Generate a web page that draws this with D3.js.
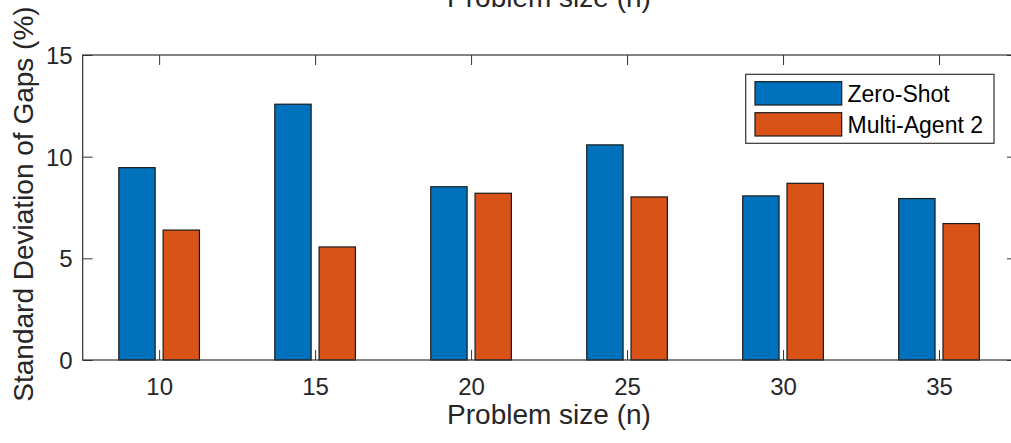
<!DOCTYPE html>
<html>
<head>
<meta charset="utf-8">
<script src="https://cdn.jsdelivr.net/npm/d3@7"></script>
<style>
  html, body { margin: 0; padding: 0; background: #fff; overflow: hidden; }
  svg { display: block; }
  text { font-family: "Liberation Sans", Arial, Helvetica, sans-serif; fill: #262626; }
</style>
</head>
<body>
<svg id="chart" width="1011" height="443"></svg>
<script>
const categories = [10, 15, 20, 25, 30, 35];
const seriesNames = ["Zero-Shot", "Multi-Agent 2"];
const zeroShot = [9.46, 12.58, 8.52, 10.58, 8.07, 7.94];
const multiAgent2 = [6.39, 5.56, 8.20, 8.02, 8.69, 6.71];
const yTicks = [0, 5, 10, 15];
const colors = ["#0072BD", "#D95319"];

(function () {
const svg = d3.select("#chart");
const pL = 82.7, pR = 1017, pT = 55, pB = 360;

const x = d3.scaleLinear().domain([7.55, 37.5]).range([pL, pR]);
const y = d3.scaleLinear().domain([0, 15]).range([pB, pT]);

const barW = 1.165;      // data units
const offsets = [-0.71, 0.71];
const series = [zeroShot, multiAgent2];

// bars
series.forEach((vals, si) => {
  svg.append("g").selectAll("rect").data(vals).join("rect")
    .attr("x", (d, i) => x(categories[i] + offsets[si] - barW / 2))
    .attr("width", x(barW) - x(0))
    .attr("y", d => y(d))
    .attr("height", d => y(0) - y(d))
    .attr("fill", colors[si])
    .attr("stroke", "#1a1a1a")
    .attr("stroke-width", 1.2);
});

const axisColor = "#333333";
const tickLen = 10;

// bottom axis (ticks inward)
const xAxis = d3.axisBottom(x).tickValues(categories).tickSizeInner(-tickLen).tickSizeOuter(0).tickFormat(d3.format("d"));
const gx = svg.append("g").attr("transform", `translate(0,${pB})`).call(xAxis);
gx.select(".domain").remove();
gx.selectAll("line").attr("stroke", axisColor);
gx.selectAll("text").attr("font-size", 24).style("fill", "#262626")
  .attr("font-family", "Liberation Sans, Arial, sans-serif").attr("dy", null).attr("y", 35);

// top axis ticks
const xTop = d3.axisTop(x).tickValues(categories).tickSizeInner(-tickLen).tickSizeOuter(0).tickFormat("");
const gxt = svg.append("g").attr("transform", `translate(0,${pT})`).call(xTop);
gxt.select(".domain").remove();
gxt.selectAll("line").attr("stroke", axisColor);

// left axis
const yAxis = d3.axisLeft(y).tickValues(yTicks).tickSizeInner(-tickLen).tickSizeOuter(0);
const gy = svg.append("g").attr("transform", `translate(${pL},0)`).call(yAxis);
gy.select(".domain").remove();
gy.selectAll("line").attr("stroke", axisColor);
gy.selectAll("text").attr("font-size", 24).style("fill", "#262626")
  .attr("font-family", "Liberation Sans, Arial, sans-serif").attr("x", -10).attr("dy", "0.35em");

// right axis ticks
const yRight = d3.axisRight(y).tickValues(yTicks).tickSizeInner(-tickLen).tickSizeOuter(0).tickFormat("");
const gyr = svg.append("g").attr("transform", `translate(${pR},0)`).call(yRight);
gyr.select(".domain").remove();
gyr.selectAll("line").attr("stroke", axisColor);

// box
svg.append("rect")
  .attr("x", pL).attr("y", pT)
  .attr("width", pR - pL).attr("height", pB - pT)
  .attr("fill", "none").attr("stroke", axisColor).attr("stroke-width", 1.2);

// labels
svg.append("text")
  .attr("x", 549).attr("y", 424)
  .attr("text-anchor", "middle").attr("font-size", 28)
  .text("Problem size (n)");

svg.append("text")
  .attr("x", 549).attr("y", 7)
  .attr("text-anchor", "middle").attr("font-size", 28)
  .text("Problem size (n)");

svg.append("text")
  .attr("transform", `translate(33,204) rotate(-90)`)
  .attr("text-anchor", "middle").attr("font-size", 28)
  .text("Standard Deviation of Gaps (%)");

// legend
const lg = svg.append("g");
lg.append("rect").attr("x", 745.7).attr("y", 74.3).attr("width", 248.3).attr("height", 69)
  .attr("fill", "#fff").attr("stroke", axisColor).attr("stroke-width", 1.2);
seriesNames.forEach((name, i) => {
  const yy = 81.7 + i * 31;
  lg.append("rect").attr("x", 755).attr("y", yy).attr("width", 86.7).attr("height", 23.3)
    .attr("fill", colors[i]).attr("stroke", "#1a1a1a").attr("stroke-width", 1.2);
  lg.append("text").attr("x", 847.5).attr("y", yy + 20).attr("font-size", 23)
    .style("fill", "#000").text(name);
});
})();
</script>
</body>
</html>
